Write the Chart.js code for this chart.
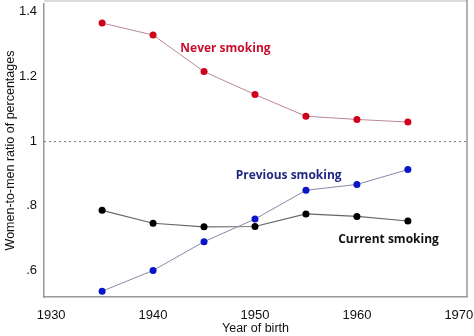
<!DOCTYPE html>
<html>
<head>
<meta charset="utf-8">
<script src="https://cdn.jsdelivr.net/npm/chart.js@4"></script>
<style>
  html, body { margin: 0; padding: 0; background: #fff; }
  #wrap { width: 474px; height: 336px; }
</style>
</head>
<body>
<div id="wrap"><canvas id="c" width="474" height="336"></canvas></div>
<script>
// birth cohorts
const years = [1935, 1940, 1945, 1950, 1955, 1960, 1965];

// women-to-men ratio of percentages
const neverSmoking = [1.365, 1.328, 1.215, 1.144, 1.077, 1.067, 1.059];
const previousSmoking = [0.536, 0.600, 0.689, 0.759, 0.848, 0.866, 0.912];
const currentSmoking = [0.786, 0.746, 0.735, 0.736, 0.775, 0.767, 0.753];

const xTicks = [1930, 1940, 1950, 1960, 1970];
const yTicks = [0.6, 0.8, 1, 1.2, 1.4];

// label text and anchor in data units
const seriesLabels = [
  { text: "Never smoking", x: 1947.1, y: 1.287, color: "#c8102e" },
  { text: "Previous smoking", x: 1953.3, y: 0.893, color: "#1f2a80" },
  { text: "Current smoking", x: 1963.1, y: 0.695, color: "#111111" }
];

const pts = (vals) => years.map((yr, i) => ({ x: yr, y: vals[i] }));

const extras = {
  id: "extras",
  beforeDatasetsDraw(chart) {
    const { ctx, chartArea: a, scales } = chart;
    // reference line at 1
    const y1 = scales.y.getPixelForValue(1);
    ctx.save();
    ctx.strokeStyle = "#777";
    ctx.lineWidth = 1;
    ctx.setLineDash([2, 3]);
    ctx.beginPath();
    ctx.moveTo(a.left, y1 + 0.5);
    ctx.lineTo(a.right, y1 + 0.5);
    ctx.stroke();
    ctx.restore();
  },
  afterDraw(chart) {
    const { ctx, chartArea: a, scales } = chart;
    ctx.save();
    // frame
    ctx.fillStyle = "#dcdcdc";
    ctx.fillRect(a.left, 0, a.right - a.left, 2);
    ctx.strokeStyle = "#999";
    ctx.lineWidth = 1.5;
    ctx.beginPath();
    ctx.moveTo(a.right, 0);
    ctx.lineTo(a.right, a.bottom);
    ctx.stroke();
    // series labels
    ctx.font = "bold 12px 'Open Sans', sans-serif";
    ctx.textAlign = "center";
    ctx.textBaseline = "middle";
    seriesLabels.forEach(l => {
      ctx.fillStyle = l.color;
      ctx.fillText(l.text, scales.x.getPixelForValue(l.x), scales.y.getPixelForValue(l.y));
    });
    ctx.restore();
  }
};

new Chart(document.getElementById("c"), {
  type: "line",
  data: {
    datasets: [
      {
        label: "Never smoking",
        data: pts(neverSmoking),
        borderColor: "#b98a98",
        backgroundColor: "#d0021b",
        pointBackgroundColor: "#d0021b",
        pointBorderWidth: 0,
        pointRadius: 3.5,
        borderWidth: 1
      },
      {
        label: "Previous smoking",
        data: pts(previousSmoking),
        borderColor: "#8a8aa8",
        backgroundColor: "#0a14c8",
        pointBackgroundColor: "#0a14c8",
        pointBorderWidth: 0,
        pointRadius: 3.5,
        borderWidth: 1
      },
      {
        label: "Current smoking",
        data: pts(currentSmoking),
        borderColor: "#666",
        backgroundColor: "#000",
        pointBackgroundColor: "#000",
        pointBorderWidth: 0,
        pointRadius: 3.5,
        borderWidth: 1.2
      }
    ]
  },
  options: {
    responsive: false,
    animation: false,
    layout: { padding: { top: 0, right: 7, left: 0, bottom: 0 } },
    plugins: {
      legend: { display: false },
      tooltip: { enabled: false }
    },
    scales: {
      x: {
        type: "linear",
        min: 1929.3,
        max: 1970.8,
        afterBuildTicks: (s) => { s.ticks = xTicks.map(v => ({ value: v })); },
        afterFit: (s) => { s.height = 39; s.paddingLeft = 0; s.paddingRight = 0; },
        grid: { display: false, drawTicks: true, tickLength: 5, tickColor: "#999" },
        border: { color: "#999", width: 1.5 },
        ticks: {
          color: "#111",
          font: { family: "Arial, 'Liberation Sans', sans-serif", size: 13 },
          padding: 6,
          callback: (v) => String(v)
        },
        title: {
          display: true,
          text: "Year of birth",
          color: "#111",
          font: { family: "Arial, 'Liberation Sans', sans-serif", size: 12.5 },
          padding: { top: 0, bottom: 0 }
        }
      },
      y: {
        min: 0.518,
        max: 1.424,
        afterBuildTicks: (s) => { s.ticks = yTicks.map(v => ({ value: v })); },
        afterFit: (s) => { s.width = 44; s.paddingTop = 0; s.paddingBottom = 0; },
        grid: { display: false, drawTicks: true, tickLength: 4, tickColor: "#999" },
        border: { color: "#999", width: 1.5 },
        ticks: {
          color: "#111",
          font: { family: "Arial, 'Liberation Sans', sans-serif", size: 13 },
          padding: 3,
          callback: (v) => v === 1 ? "1" : String(v).replace(/^0/, "")
        },
        title: {
          display: true,
          text: "Women-to-men ratio of percentages",
          color: "#111",
          font: { family: "Arial, 'Liberation Sans', sans-serif", size: 12.5 },
          padding: { top: 3, bottom: 0 }
        }
      }
    }
  },
  plugins: [extras]
});
</script>
</body>
</html>
